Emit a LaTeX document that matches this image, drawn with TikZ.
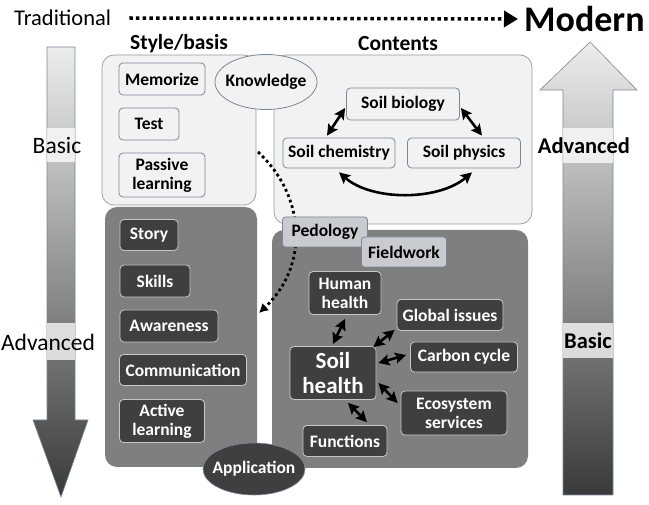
\documentclass[tikz,border=0pt]{standalone}
\usepackage{fontspec}
\setmainfont{Carlito}
\usetikzlibrary{arrows.meta,shapes.geometric,calc}
\definecolor{panellight}{HTML}{F2F2F2}
\definecolor{panelborder}{HTML}{9A9A9A}
\definecolor{paneldark}{HTML}{7F7F7F}
\definecolor{itemdark}{HTML}{3F3F3F}
\definecolor{itemborder}{HTML}{C8C8C8}
\definecolor{bluegray}{HTML}{7A8699}
\definecolor{pedfill}{HTML}{C9CBCF}
\definecolor{arrowtop}{HTML}{EDEDED}
\definecolor{arrowbot}{HTML}{3A3A3A}
\tikzset{
  itemfont/.style={font=\bfseries\fontsize{17.5}{19}\selectfont},
  litem/.style={draw=bluegray, fill=panellight, rounded corners=4pt, line width=0.8pt, itemfont, inner sep=0pt, align=center},
  ditem/.style={draw=itemborder, fill=itemdark, text=white, rounded corners=4pt, line width=0.8pt, itemfont, inner sep=0pt, align=center},
  pitem/.style={draw=bluegray, fill=pedfill, rounded corners=3pt, line width=0.8pt, itemfont, inner sep=0pt, align=center},
  lpanel/.style={draw=panelborder, fill=panellight, rounded corners=12pt, line width=0.7pt},
  dpanel/.style={fill=paneldark, rounded corners=12pt},
  dbl/.style={{Stealth[length=11pt,width=11pt,inset=2pt]}-{Stealth[length=11pt,width=11pt,inset=2pt]}, line width=2.6pt, black},
  bigarrow/.style={draw=bluegray, line width=0.6pt, top color=arrowtop, bottom color=arrowbot},
  sidefont/.style={font=\fontsize{23.5}{26}\selectfont},
  sidebold/.style={font=\bfseries\fontsize{22.5}{25}\selectfont},
  headfont/.style={font=\bfseries\fontsize{21.5}{24}\selectfont},
}
\begin{document}
\begin{tikzpicture}[x=1pt,y=-1pt]
\useasboundingbox (0,0) rectangle (649,505);
% big side arrows
\path[bigarrow] (47,47) -- (75,47) -- (75,420) -- (88,420) -- (61,497) -- (33,420) -- (47,420) -- cycle;
\path[bigarrow] (563,495) -- (563,90) -- (540,90) -- (590,42) -- (637,90) -- (613,90) -- (613,495) -- cycle;
\fill[white, opacity=0.75] (47,128) rectangle (75,162);
\fill[white, opacity=0.75] (47,323) rectangle (75,360);
\fill[white, opacity=0.75] (563,128) rectangle (613,163);
\fill[white, opacity=0.75] (563,323) rectangle (613,358);
\node[sidefont] (lbasic) at (57,146) {Basic};
\node[sidefont] (ladv) at (48,342) {Advanced};
\node[sidebold] (radv) at (584,146) {Advanced};
\node[sidebold] (rbasic) at (588,341) {Basic};
% top line
\node[font=\fontsize{22.5}{25}\selectfont, anchor=west, inner sep=0pt] (trad) at (14,18) {Traditional};
\node[font=\bfseries\fontsize{36}{38}\selectfont, anchor=west, inner sep=0pt] (modern) at (524,19) {Modern};
\draw[line width=3.5pt, dash pattern=on 3.5pt off 3.2pt, -{Triangle[length=14pt,width=16pt]}] ([xshift=18pt]trad.east) -- ([xshift=-6pt]modern.west);
\node[headfont] (style) at (179,44) {Style/basis};
\node[headfont] (contents) at (398,44) {Contents};
% panels
\path[lpanel] (102,55) rectangle (256,205);
\path[lpanel] (274,55) rectangle (532,224);
\path[dpanel] (105,207) rectangle (257,467);
\path[dpanel] (272,230) rectangle (528,468);
% style/basis light items
\node[litem, minimum width=86pt, minimum height=32pt] (mem) at (162,79) {Memorize};
\node[litem, minimum width=60pt, minimum height=32pt] (test) at (149,124) {Test};
\node[litem, minimum width=86pt, minimum height=44pt] (pass) at (162,175) {Passive\\learning};
\node[ellipse, draw=bluegray, fill=panellight, line width=0.8pt, minimum width=102pt, minimum height=55pt, inner sep=0pt] (know) at (266,82) {};
\node[itemfont, inner sep=0pt] (knowtext) at (know.center) {Knowledge};
% contents
\node[litem, minimum width=113pt, minimum height=32pt] (bio) at (403,104) {Soil biology};
\node[litem, minimum width=112pt, minimum height=30pt] (chem) at (339,153) {Soil chemistry};
\node[litem, minimum width=113pt, minimum height=30pt] (phys) at (464,153) {Soil physics};
\draw[dbl] ($(bio.west)+(-1,4)$) -- ($(chem.north)+(-12,-2)$);
\draw[dbl] ($(bio.east)+(1,4)$) -- ($(phys.north)+(18,-2)$);
\draw[dbl] ($(chem.south)+(0,4)$) .. controls (372,201) and (438,201) .. ($(phys.south)+(8,4)$);
% style/basis dark items
\node[ditem, minimum width=58pt, minimum height=31pt] (story) at (149,235) {Story};
\node[ditem, minimum width=70pt, minimum height=32pt] (skills) at (155,281) {Skills};
\node[ditem, minimum width=98pt, minimum height=32pt] (aware) at (169,326) {Awareness};
\node[ditem, minimum width=127pt, minimum height=31pt] (comm) at (183,370) {Communication};
\node[ditem, minimum width=85pt, minimum height=43pt] (active) at (162,421) {Active\\learning};
% dotted curve
\coordinate (dstart) at (258,152);
\coordinate (dend) at (259,313);
\draw[line width=2.8pt, dash pattern=on 2.8pt off 3pt, -{Latex[length=9pt,width=10pt]}] (dstart) .. controls (305,195) and (310,265) .. (dend);
% pedology / fieldwork
\node[pitem, minimum width=85pt, minimum height=30pt] (ped) at (325,232) {Pedology};
\node[pitem, minimum width=85pt, minimum height=30pt] (field) at (404,252) {Fieldwork};
% soil health
\node[ditem, minimum width=72pt, minimum height=43pt] (human) at (345,293) {Human\\health};
\node[ditem, minimum width=106pt, minimum height=31pt] (global) at (450,315) {Global issues};
\node[ditem, minimum width=107pt, minimum height=30pt] (carbon) at (464,357) {Carbon cycle};
\node[ditem, minimum width=86pt, minimum height=53pt, font=\bfseries\fontsize{23}{25}\selectfont] (soil) at (333,373) {Soil\\health};
\node[ditem, minimum width=106pt, minimum height=44pt] (eco) at (454,413) {Ecosystem\\services};
\node[ditem, minimum width=84pt, minimum height=31pt] (func) at (345,441) {Functions};
\draw[dbl] ($(human.south)+(0,4)$) -- ($(soil.north)+(0,-2)$);
\draw[dbl] ($(soil.north east)+(-3,1)$) -- ($(global.south west)+(-2,-1)$);
\draw[dbl] ($(soil.east)+(2,-10)$) -- ($(carbon.west)+(-4,-2)$);
\draw[dbl] ($(soil.east)+(2,10)$) -- ($(eco.west)+(-3,-10)$);
\draw[dbl] ($(soil.south)+(15,3)$) -- ($(func.north)+(22,-3)$);
% application
\node[ellipse, fill=itemdark, draw=bluegray, line width=0.6pt, minimum width=102pt, minimum height=52pt, inner sep=0pt] (app) at (254,469) {};
\node[itemfont, text=white, inner sep=0pt] (apptext) at (app.center) {Application};
\end{tikzpicture}
\end{document}
